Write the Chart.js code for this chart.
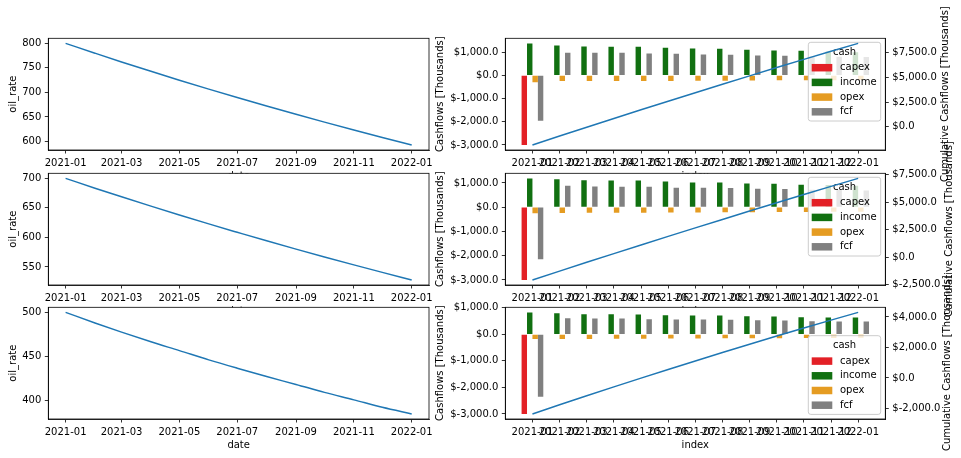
<!DOCTYPE html>
<html>
<head>
<meta charset="utf-8">
<title>oil rate and cashflows</title>
<script src="https://cdn.jsdelivr.net/npm/chart.js@4.4.0/dist/chart.umd.min.js"></script>
<style>
  html, body { margin: 0; padding: 0; background: #fff; }
  #fig { position: relative; width: 961px; height: 458px; }
  #fig canvas { position: absolute; left: 0; top: 0; }
</style>
</head>
<body>
<div id="fig"></div>
<script>
/* ------------------------------------------------------------
   data
   ------------------------------------------------------------ */
const months = ['2021-01', '2021-02', '2021-03', '2021-04', '2021-05', '2021-06', '2021-07',
                '2021-08', '2021-09', '2021-10', '2021-11', '2021-12', '2022-01'];
const dateTicks = ['2021-01', '2021-03', '2021-05', '2021-07', '2021-09', '2021-11', '2022-01'];

const oilRate1 = [800, 780, 762.2, 743.1, 725, 706.8, 689.6, 672.3, 655.4, 639.5, 623.4, 608.3, 593];
const oilRate2 = [700, 683.4, 668.8, 653, 638, 622.9, 608.7, 594.2, 580.2, 566.9, 553.5, 540.8, 528];
const oilRate3 = [500, 488, 477.5, 466.5, 456.5, 446, 436.5, 427, 418, 409, 400.5, 392, 384.5];
const oilTicks1 = [600, 650, 700, 750, 800];
const oilTicks2 = [550, 600, 650, 700];
const oilTicks3 = [400, 450, 500];

const cashNames = ['capex', 'income', 'opex', 'fcf'];
const capex = [-3000, 0, 0, 0, 0, 0, 0, 0, 0, 0, 0, 0, 0];

const income1 = [1385, 1290, 1245, 1240, 1235, 1200, 1160, 1155, 1115, 1075, 1070, 1035, 1000];
const opex1 = [-290, -240, -240, -240, -235, -235, -230, -225, -220, -210, -210, -205, -200];
const fcf1 = [-1955, 985, 980, 975, 945, 935, 900, 895, 860, 855, 815, 810, 795];
const cum1 = [-1850, -950, -55, 835, 1715, 2585, 3450, 4305, 5155, 5995, 6825, 7645, 8450];

const income2 = [1190, 1150, 1110, 1105, 1100, 1060, 1020, 1015, 975, 965, 930, 920, 890];
const opex2 = [-250, -235, -230, -230, -225, -220, -215, -210, -205, -200, -195, -190, -185];
const fcf2 = [-2150, 890, 850, 845, 840, 805, 800, 795, 760, 755, 720, 715, 690];
const cum2 = [-2050, -1250, -455, 335, 1120, 1895, 2665, 3430, 4190, 4945, 5690, 6425, 7150];

const income3 = [825, 790, 755, 750, 745, 715, 710, 705, 675, 670, 640, 635, 630];
const opex3 = [-180, -175, -175, -170, -170, -160, -155, -150, -150, -145, -140, -140, -135];
const fcf3 = [-2350, 600, 595, 590, 565, 560, 555, 550, 525, 520, 490, 485, 480];
const cum3 = [-2360, -1760, -1170, -585, -10, 555, 1115, 1665, 2210, 2745, 3270, 3790, 4300];

const cashTicks = [-3000, -2000, -1000, 0, 1000];
const cumTicks1 = [0, 2500, 5000, 7500];
const cumTicks2 = [-2500, 0, 2500, 5000, 7500];
const cumTicks3 = [-2000, 0, 2000, 4000];

/* ------------------------------------------------------------
   helpers
   ------------------------------------------------------------ */
const W = 961, H = 458;
const ROWS = [[38.3, 150], [173.3, 285], [307.3, 419]];
const XAXIS_H = 32.5;
const CASH_COLORS = ['#e32026', '#117011', '#e59c22', '#808080'];

Chart.defaults.font.family = '"DejaVu Sans", sans-serif';
Chart.defaults.font.size = 10;
Chart.defaults.color = '#000';

const dayOf = (m) =>
  (Date.UTC(+m.slice(0, 4), +m.slice(5, 7) - 1, 1) - Date.UTC(2021, 0, 1)) / 864e5;

// matplotlib style 5% margins
function pad5(vals) {
  const lo = Math.min(...vals), hi = Math.max(...vals);
  const m = (hi - lo) * 0.05;
  return [lo - m, hi + m];
}

const money = (v) =>
  '$' + v.toLocaleString('en-US', { minimumFractionDigits: 1, maximumFractionDigits: 1 });

function makeCanvas() {
  const c = document.createElement('canvas');
  c.width = W;
  c.height = H;
  document.getElementById('fig').appendChild(c);
  return c;
}

function axis(extra) {
  return Object.assign({
    grid: { drawOnChartArea: false, drawTicks: true, tickLength: 3.5, color: '#000', lineWidth: 0.8, offset: false },
    border: { display: true, color: '#000', width: 0.8 },
  }, extra);
}

const fixedTicks = (vals) => (s) => { s.ticks = vals.map((v) => ({ value: v })); };

/* white plot background + full box frame */
const paperFrame = {
  id: 'paperFrame',
  beforeDraw(chart) {
    const { ctx, chartArea: a } = chart;
    ctx.save();
    ctx.fillStyle = '#fff';
    ctx.fillRect(a.left, a.top, a.right - a.left, a.bottom - a.top);
    ctx.restore();
  },
  afterDraw(chart) {
    const { ctx, chartArea: a } = chart;
    ctx.save();
    ctx.strokeStyle = '#000';
    ctx.lineWidth = 0.8;
    ctx.strokeRect(a.left, a.top, a.right - a.left, a.bottom - a.top);
    ctx.restore();
  },
};

/* right axis label, reads bottom to top like matplotlib */
const sideTitle = {
  id: 'sideTitle',
  afterDraw(chart, args, opts) {
    const { ctx, chartArea: a } = chart;
    ctx.save();
    ctx.translate(opts.x, (a.top + a.bottom) / 2);
    ctx.rotate(-Math.PI / 2);
    ctx.font = '10px "DejaVu Sans"';
    ctx.fillStyle = '#000';
    ctx.textAlign = 'center';
    ctx.textBaseline = 'middle';
    ctx.fillText(opts.text, 0, 0);
    ctx.restore();
  },
};

/* boxed legend inside the plot, painted under the cumulative line */
const cashLegend = {
  id: 'cashLegend',
  beforeDatasetDraw(chart, args, opts) {
    if (args.meta.type !== 'line') return;
    const { ctx, chartArea: a } = chart;
    const bars = chart.data.datasets.filter((d) => d.type === 'bar');
    const w = 72.4, h = 78.7;
    const x = a.right - 4.6 - w;
    const y = opts.lower ? a.bottom - 4.6 - h : a.top + 4;
    ctx.save();
    ctx.beginPath();
    if (ctx.roundRect) ctx.roundRect(x, y, w, h, 2.5); else ctx.rect(x, y, w, h);
    ctx.fillStyle = 'rgba(255,255,255,0.8)';
    ctx.fill();
    ctx.lineWidth = 1;
    ctx.strokeStyle = '#cccccc';
    ctx.stroke();
    ctx.font = '10px "DejaVu Sans"';
    ctx.textBaseline = 'middle';
    ctx.textAlign = 'center';
    ctx.fillStyle = '#000';
    ctx.fillText(opts.title, x + w / 2, y + 10);
    ctx.textAlign = 'left';
    bars.forEach((d, i) => {
      const cy = y + 25.4 + i * 14.7;
      ctx.fillStyle = d.backgroundColor;
      ctx.fillRect(x + 3.4, cy - 3.75, 20.6, 7.5);
      ctx.fillStyle = '#000';
      ctx.fillText(d.label, x + 31.7, cy);
    });
    ctx.restore();
  },
};

/* ------------------------------------------------------------
   left column: oil_rate vs date
   ------------------------------------------------------------ */
function oilPanel(row, rates, yTicks) {
  const [top, bottom] = ROWS[row];
  const xs = months.map(dayOf);
  const [xmin, xmax] = pad5(xs);
  const [ymin, ymax] = pad5(rates);
  return new Chart(makeCanvas(), {
    type: 'line',
    data: {
      datasets: [{
        data: xs.map((x, i) => ({ x, y: rates[i] })),
        borderColor: '#1f77b4',
        borderWidth: 1.5,
        pointRadius: 0,
        cubicInterpolationMode: 'monotone',
      }],
    },
    options: {
      responsive: false,
      animation: false,
      events: [],
      layout: { padding: { left: 7, right: W - 429, top, bottom: H - bottom - XAXIS_H } },
      plugins: { legend: { display: false }, tooltip: { enabled: false } },
      scales: {
        x: axis({
          type: 'linear', min: xmin, max: xmax,
          afterFit: (s) => { s.height = XAXIS_H; },
          afterBuildTicks: fixedTicks(dateTicks.map(dayOf)),
          ticks: { autoSkip: false, maxRotation: 0, minRotation: 0, padding: 3.5,
                   callback: (v, i) => dateTicks[i] },
          title: { display: true, text: 'date', padding: 0 },
        }),
        y: axis({
          min: ymin, max: ymax,
          afterFit: (s) => { s.width = 41.3; },
          afterBuildTicks: fixedTicks(yTicks),
          ticks: { padding: 3.5, callback: (v) => String(v) },
          title: { display: true, text: 'oil_rate', padding: 0 },
        }),
      },
    },
    plugins: [paperFrame],
  });
}

/* ------------------------------------------------------------
   right column: monthly cash bars + cumulative line (twin axis)
   ------------------------------------------------------------ */
function cashPanel(row, income, opex, fcf, cum, cumTicks, lowerLegend, titleX) {
  const [top, bottom] = ROWS[row];
  const pts = (arr) => arr.map((y, x) => ({ x, y }));
  const series = [capex, income, opex, fcf];
  const [ymin, ymax] = pad5([].concat(...series));
  const [cmin, cmax] = pad5(cum);

  const bars = series.map((arr, i) => ({
    type: 'bar',
    label: cashNames[i],
    data: pts(arr),
    backgroundColor: CASH_COLORS[i],
    categoryPercentage: 0.8,
    barPercentage: 1,
    inflateAmount: 0,
    order: 1,
    yAxisID: 'y',
  }));

  return new Chart(makeCanvas(), {
    type: 'bar',
    data: {
      datasets: bars.concat([{
        type: 'line',
        label: 'cumulative',
        data: pts(cum),
        borderColor: '#1f77b4',
        borderWidth: 1.5,
        pointRadius: 0,
        tension: 0,
        order: 0,
        yAxisID: 'y2',
      }]),
    },
    options: {
      responsive: false,
      animation: false,
      events: [],
      layout: { padding: { left: 434, right: W - 885.3 - 60, top, bottom: H - bottom - XAXIS_H } },
      plugins: {
        legend: { display: false },
        tooltip: { enabled: false },
        cashLegend: { title: 'cash', lower: lowerLegend },
        sideTitle: { text: 'Cumulative Cashflows [Thousands]', x: titleX },
      },
      scales: {
        x: axis({
          type: 'linear', min: -1, max: 13, offset: false,
          afterFit: (s) => { s.height = XAXIS_H; },
          afterBuildTicks: fixedTicks(months.map((m, i) => i)),
          ticks: { autoSkip: false, maxRotation: 0, minRotation: 0, padding: 3.5,
                   callback: (v, i) => months[i] },
          title: { display: true, text: 'index', padding: 0 },
        }),
        y: axis({
          position: 'left', min: ymin, max: ymax,
          afterFit: (s) => { s.width = 71.3; },
          afterBuildTicks: fixedTicks(cashTicks),
          ticks: { padding: 3.5, callback: money },
          title: { display: true, text: 'Cashflows [Thousands]', padding: 0 },
        }),
        y2: axis({
          position: 'right', min: cmin, max: cmax,
          afterFit: (s) => { s.width = 60; },
          afterBuildTicks: fixedTicks(cumTicks),
          ticks: { padding: 3.5, callback: money },
        }),
      },
    },
    plugins: [paperFrame, cashLegend, sideTitle],
  });
}

/* ------------------------------------------------------------
   draw, top row first so lower panels sit on top
   ------------------------------------------------------------ */
oilPanel(0, oilRate1, oilTicks1);
cashPanel(0, income1, opex1, fcf1, cum1, cumTicks1, false, 945);
oilPanel(1, oilRate2, oilTicks2);
cashPanel(1, income2, opex2, fcf2, cum2, cumTicks2, false, 949);
oilPanel(2, oilRate3, oilTicks3);
cashPanel(2, income3, opex3, fcf3, cum3, cumTicks3, true, 947);
</script>
</body>
</html>
